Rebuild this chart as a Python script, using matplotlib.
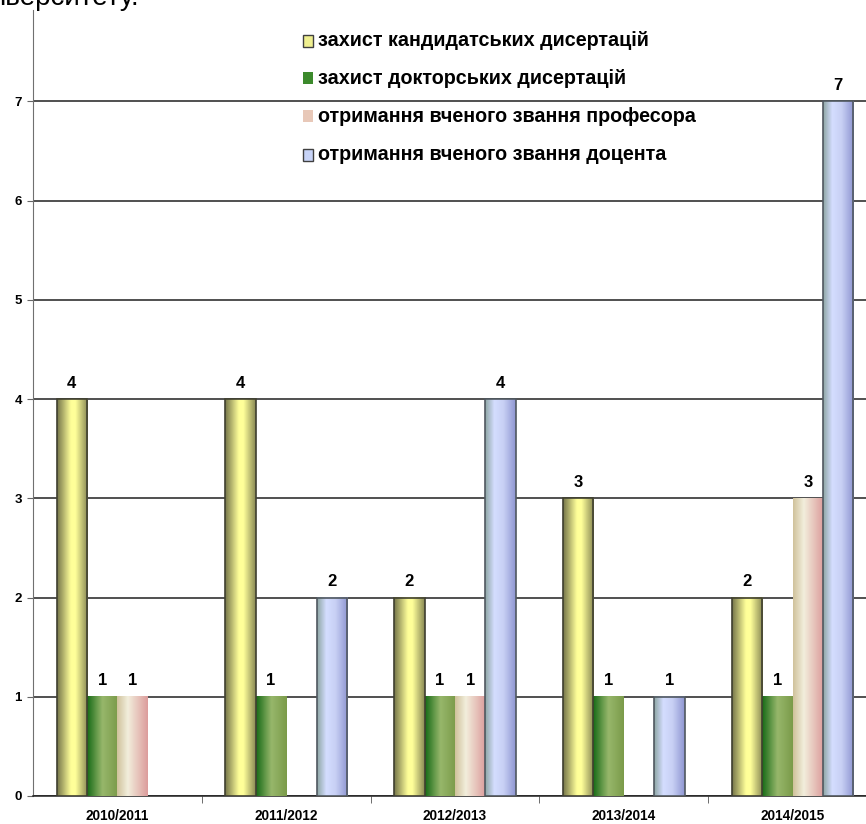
import matplotlib.pyplot as plt
import numpy as np
from matplotlib.colors import LinearSegmentedColormap
from matplotlib.patches import Rectangle

plt.rcParams['font.family'] = ['Liberation Sans', 'DejaVu Sans']

years = ['2010/2011', '2011/2012', '2012/2013', '2013/2014', '2014/2015']
series_names = ['захист кандидатських дисертацій',
                'захист докторських дисертацій',
                'отримання вченого звання професора',
                'отримання вченого звання доцента']
kandydat = [4, 4, 2, 3, 2]
doktor = [1, 1, 1, 1, 1]
profesor = [1, 0, 1, 0, 3]
docent = [0, 2, 4, 1, 7]
values = [kandydat, doktor, profesor, docent]

# horizontal gradients (left, middle, right) like the excel 3d-ish bars
grads = [
    [(0.0, '#76764a'), (0.45, '#ffff99'), (0.6, '#ffff99'), (1.0, '#8a8a55')],
    [(0.0, '#176b17'), (0.5, '#97b76b'), (1.0, '#7b9b4a')],
    [(0.0, '#d0c29c'), (0.35, '#f2eedc'), (1.0, '#dc9c9c')],
    [(0.0, '#8fa7a5'), (0.3, '#d4ddff'), (0.6, '#c8d0f4'), (1.0, '#8f96d2')],
]
edges = ['#404030', None, None, '#505860']
legend_cols = ['#f0f090', '#3c8a2c', '#e8c8b8', '#c8d4f8']

W, H = 866, 824
fig = plt.figure(figsize=(W / 100, H / 100), dpi=100)
ax = fig.add_axes([33 / W, 28 / H, 844 / W, 786 / H])

bw = 0.18
offs = np.array([-1.5, -0.5, 0.5, 1.5]) * bw
x = np.arange(len(years))

for s in range(4):
    cmap = LinearSegmentedColormap.from_list('g%d' % s, grads[s])
    img = cmap(np.linspace(0, 1, 64))[None, :, :3]
    for i, v in enumerate(values[s]):
        if v == 0:
            continue
        x0 = x[i] + offs[s] - bw / 2
        ax.imshow(img, extent=[x0, x0 + bw, 0, v], aspect='auto',
                  interpolation='bilinear', zorder=3)
        if edges[s]:
            ax.add_patch(Rectangle((x0, 0), bw, v, fill=False,
                                   edgecolor=edges[s], lw=1.2, zorder=4))
        ax.annotate(str(v), (x[i] + offs[s], v), xytext=(0, 6),
                    textcoords='offset points', ha='center', va='bottom',
                    fontsize=12, fontweight='bold', zorder=5)

ax.set_xlim(-0.5, len(years) - 0.5)
ax.set_ylim(0, 7.92)
ax.set_yticks(range(8))
ax.set_yticklabels([str(t) for t in range(8)], fontsize=9.5, fontweight='bold')
ax.set_xticks(x)
ax.set_xticklabels(years, fontsize=9.8, fontweight='bold')
ax.set_xticks(np.arange(0.5, len(years) - 0.5, 1), minor=True)
ax.tick_params(axis='x', which='major', length=0, pad=9.5)
ax.tick_params(axis='x', which='minor', length=5, color='#555555')
ax.tick_params(axis='y', length=4, color='#666666', pad=4)
ax.yaxis.grid(True, color='#202020', lw=1.1, zorder=1)
ax.set_axisbelow(True)
for sp in ['top', 'right']:
    ax.spines[sp].set_visible(False)
ax.spines['left'].set_color('#707070')
ax.spines['bottom'].set_color('#202020')
ax.spines['bottom'].set_linewidth(1.1)

# legend drawn by hand, no frame
rows = [41, 78, 116, 155]
for s in range(4):
    y = 1 - rows[s] / H
    fig.patches.append(Rectangle((303 / W, y - 5.5 / H), 10 / W, 11 / H,
                                 transform=fig.transFigure,
                                 facecolor=legend_cols[s],
                                 edgecolor='#404040' if s in (0, 3) else 'none',
                                 lw=1))
    fig.text(318 / W, y, series_names[s], fontsize=14.2, fontweight='bold',
             va='center', ha='left')

# cropped heading line at the very top
fig.text(-1 / W, 1 - 5 / H, 'іверситету.', fontsize=20, va='baseline', ha='left')

fig.savefig('out.png', dpi=100)
